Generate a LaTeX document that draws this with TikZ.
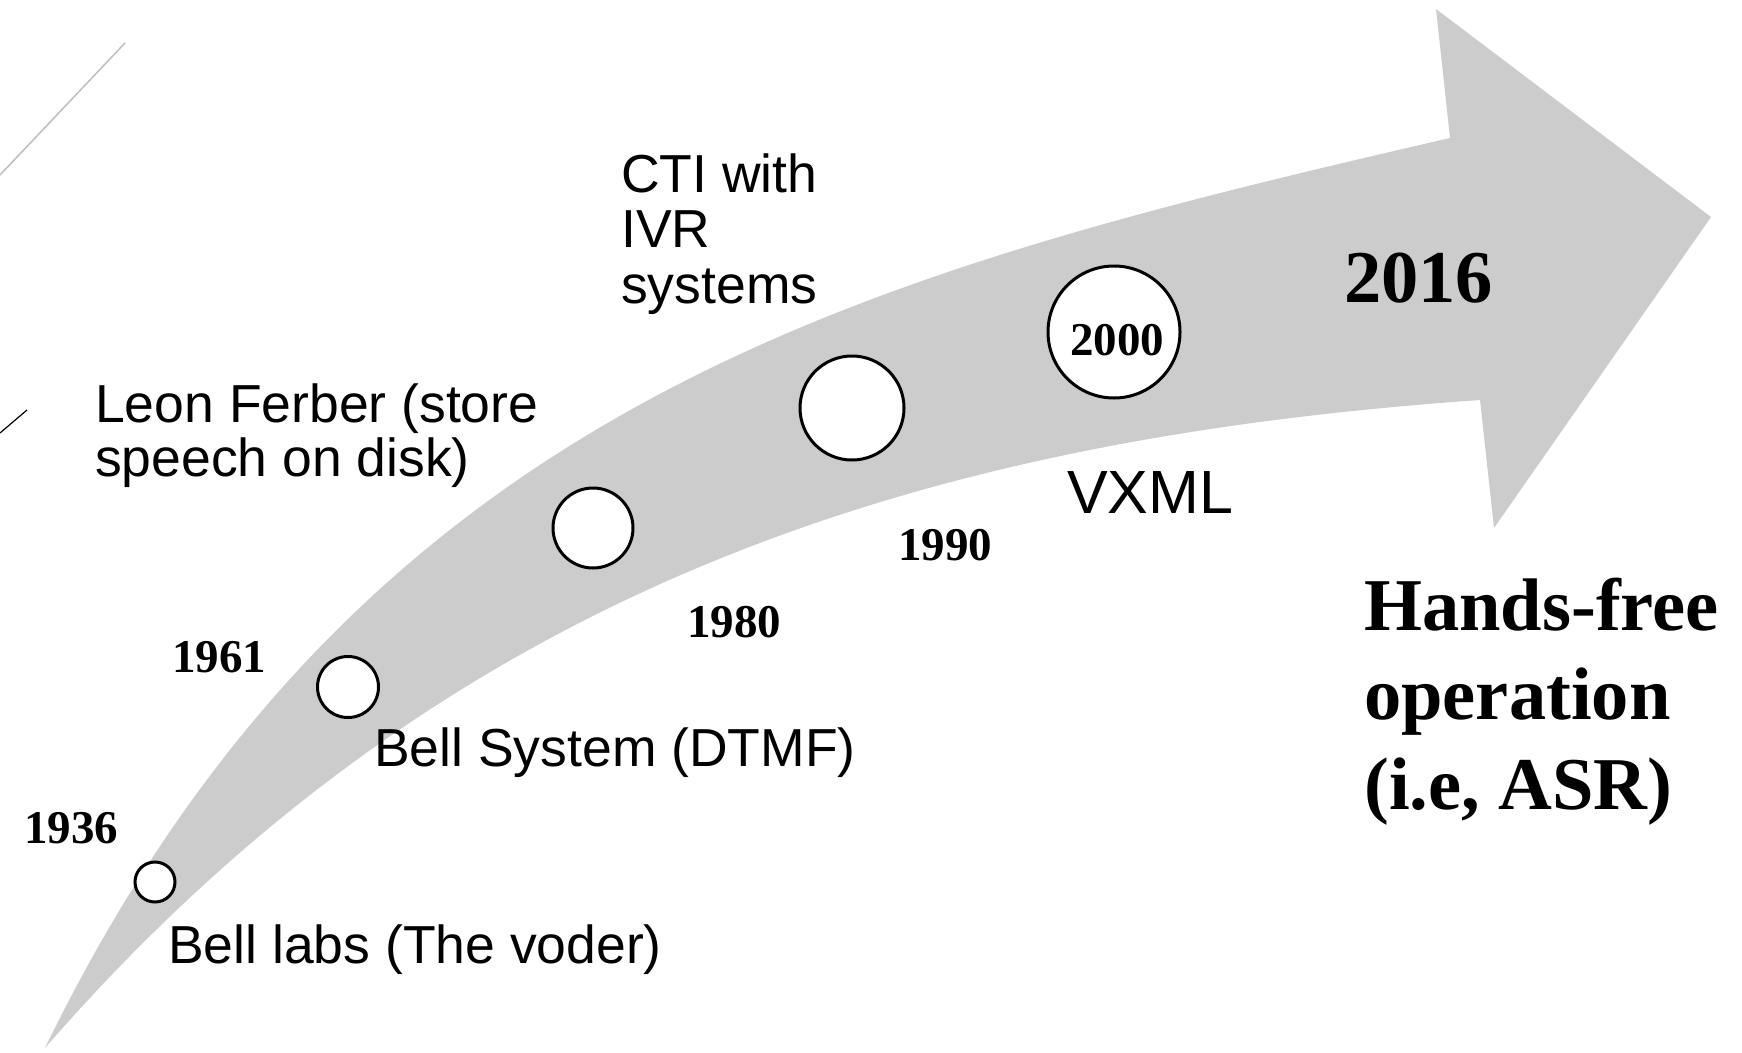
\documentclass[tikz,border=0pt]{standalone}
\usepackage{fontspec}
\setmainfont{Liberation Serif}
\setsansfont{Liberation Sans}
\definecolor{arrowgray}{RGB}{204,204,204}
\definecolor{linegray}{RGB}{190,190,190}
\tikzset{
  dot/.style={circle,draw=black,fill=white,line width=3pt,inner sep=0pt},
  year/.style={inner sep=0pt,anchor=base west,font={\fontsize{47}{56}\selectfont\bfseries}},
  bigyear/.style={inner sep=0pt,anchor=base west,font={\fontsize{74.5}{89.5}\selectfont\bfseries},align=left},
  lbl/.style={inner sep=0pt,anchor=base west,font={\sffamily\fontsize{53.5}{54}\selectfont},align=left}
}
\begin{document}
\begin{tikzpicture}[x=1pt,y=-1pt]
\useasboundingbox (0,0) rectangle (1742,1052);
% stray edge lines
\coordinate (g1) at (125,43);
\coordinate (g2) at (0,175);
\coordinate (k1) at (27,410);
\coordinate (k2) at (0,433);
\draw[linegray,line width=1.5pt] (g1) -- (g2);
\draw[black,line width=1.2pt] (k1) -- (k2);
% curved arrow
\fill[arrowgray] (45,1048) .. controls (360,401) and (866,273) .. (1450,138)
  -- (1436,9) -- (1711,217) -- (1494,528) -- (1480,400)
  .. controls (931,438.5) and (452,580) .. (45,1048) -- cycle;
% milestones
\node[dot,minimum size=40pt] (c1) at (155,882) {};
\node[dot,minimum size=61pt] (c2) at (348,687) {};
\node[dot,minimum size=80pt] (c3) at (593,528) {};
\node[dot,minimum size=104pt] (c4) at (852,408) {};
\node[dot,minimum size=132pt] (c5) at (1114,332) {};
% years
\node[year] (y1936) at (24,843) {1936};
\node[year] (y1961) at (172,672) {1961};
\node[year] (y1980) at (687,637) {1980};
\node[year] (y1990) at (898,560) {1990};
\node[inner sep=0pt,font={\fontsize{47}{56}\selectfont\bfseries}] (y2000) at (1117,340) {2000};
\node[bigyear] (y2016) at (1344,302) {2016};
\node[bigyear] (hf) at (1364,809) {Hands-free\\operation\\(i.e, ASR)};
% labels
\node[lbl] (l1936) at (168,963) {Bell labs (The voder)};
\node[lbl] (l1961) at (374,766) {Bell System (DTMF)};
\node[lbl] (l1980) at (95,476) {Leon Ferber (store\\speech on disk)};
\node[lbl,font={\sffamily\fontsize{53.5}{55.5}\selectfont}] (l1990) at (621,303) {CTI with\\IVR\\systems};
\node[lbl,font={\sffamily\fontsize{61}{66}\selectfont}] (l2000) at (1067,513) {VXML};
\end{tikzpicture}
\end{document}
